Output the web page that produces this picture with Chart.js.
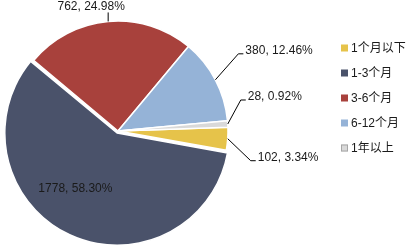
<!DOCTYPE html>
<html><head><meta charset="utf-8">
<script src="https://cdn.jsdelivr.net/npm/chart.js@4.4.0/dist/chart.umd.min.js"></script>
<style>html,body{margin:0;padding:0;background:#fff}</style>
</head><body>
<canvas id="c" width="416" height="246"></canvas>
<script>
// ---- data ----
const categories = ['1个月以下', '1-3个月', '3-6个月', '6-12个月', '1年以上'];
const counts = [102, 1778, 762, 380, 28];
const percents = ['3.34%', '58.30%', '24.98%', '12.46%', '0.92%'];

// ---- style ----
const sliceColors = ['#e6c34a', '#4a526a', '#a8413c', '#95b3d7', '#d9d9d9'];
const FONT = '12px "Liberation Sans", Arial, "Noto Sans CJK SC", sans-serif';
const TEXT = '#1a1a1a';
// leader/label placement relative to each slice's outer-arc midpoint
const labelLayout = [
  {type: 'right', dx: 23, dy: 22, len: 5},
  {type: 'inside', dAngle: 11.6, dist: 0.65},
  {type: 'top', dy: -9, tx: -17},
  {type: 'right', dx: 23, dy: -26, len: 5},
  {type: 'right', dx: 13, dy: -24, len: 5}
];

const labelPlugin = {
  id: 'pieLabels',
  afterDatasetsDraw(chart) {
    const ctx = chart.ctx;
    const meta = chart.getDatasetMeta(0);
    ctx.save();
    ctx.font = FONT;
    ctx.fillStyle = TEXT;
    ctx.strokeStyle = '#000';
    ctx.lineWidth = 1;
    meta.data.forEach((arc, i) => {
      const {x, y, startAngle, endAngle, outerRadius} = arc.getProps(['x', 'y', 'startAngle', 'endAngle', 'outerRadius'], true);
      const mid = (startAngle + endAngle) / 2;
      const text = counts[i] + ', ' + percents[i];
      const L = labelLayout[i];
      const px = x + Math.cos(mid) * outerRadius;
      const py = y + Math.sin(mid) * outerRadius;
      if (L.type === 'inside') {
        const a = mid + L.dAngle * Math.PI / 180;
        ctx.textAlign = 'center';
        ctx.textBaseline = 'middle';
        ctx.fillText(text, x + Math.cos(a) * outerRadius * L.dist, y + Math.sin(a) * outerRadius * L.dist);
      } else if (L.type === 'top') {
        ctx.beginPath();
        ctx.moveTo(px, py);
        ctx.lineTo(px, py + L.dy);
        ctx.stroke();
        ctx.textAlign = 'center';
        ctx.textBaseline = 'middle';
        ctx.fillText(text, px + L.tx, py + L.dy - 6);
      } else {
        const ex = px + L.dx, ey = py + L.dy;
        ctx.beginPath();
        ctx.moveTo(px, py);
        ctx.lineTo(ex, ey);
        ctx.lineTo(ex + L.len, ey);
        ctx.stroke();
        ctx.textAlign = 'left';
        ctx.textBaseline = 'middle';
        ctx.fillText(text, ex + L.len + 2, ey - 3);
      }
    });
    ctx.restore();
  }
};

const legendPlugin = {
  id: 'sideLegend',
  afterDraw(chart) {
    const ctx = chart.ctx;
    ctx.save();
    ctx.font = FONT;
    ctx.textAlign = 'left';
    ctx.textBaseline = 'middle';
    categories.forEach((c, i) => {
      const cy = 48 + 25 * i;
      ctx.fillStyle = sliceColors[i];
      ctx.fillRect(341, cy - 3.5, 7, 7);
      if (i === 4) {
        ctx.strokeStyle = '#a6a6a6';
        ctx.lineWidth = 1;
        ctx.strokeRect(341.5, cy - 3, 6, 6);
      }
      ctx.fillStyle = TEXT;
      ctx.fillText(c, 351, cy + 0.5);
    });
    ctx.restore();
  }
};

new Chart(document.getElementById('c'), {
  type: 'pie',
  data: {
    labels: categories,
    datasets: [{
      data: counts,
      backgroundColor: sliceColors,
      borderColor: '#ffffff',
      borderWidth: 1.5,
      offset: [0, 9, 0, 0, 0],
      radius: 110
    }]
  },
  options: {
    responsive: false,
    animation: false,
    rotation: 88,
    layout: {padding: {left: 0, right: 180, top: 16, bottom: 0}},
    plugins: {legend: {display: false}, tooltip: {enabled: false}}
  },
  plugins: [labelPlugin, legendPlugin]
});
</script>
</body></html>
